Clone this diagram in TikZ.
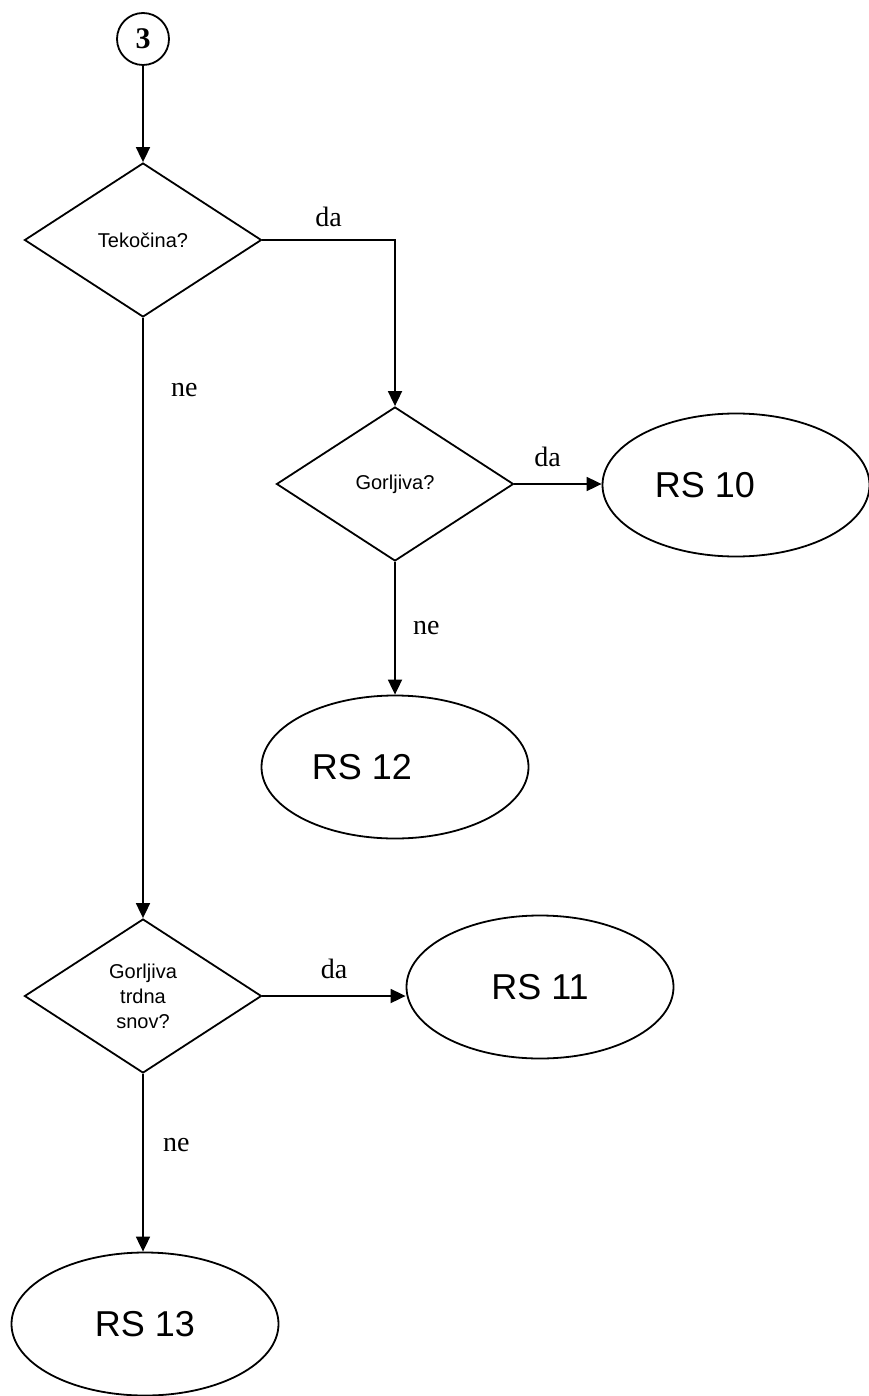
\documentclass[tikz,border=0pt]{standalone}
\usepackage{fontspec}
\setmainfont{Liberation Serif}
\newfontfamily\sansf{Liberation Sans}
\usetikzlibrary{arrows.meta,positioning,shapes.geometric}

\begin{document}
\begin{tikzpicture}[x=1pt,y=-1pt,line width=1.8pt,>={Triangle[length=15pt,width=14pt]},
  start node/.style={circle,draw,minimum size=52pt,inner sep=0pt,font=\fontsize{30}{30}\selectfont\bfseries},
  test node/.style={diamond,draw,minimum width=237pt,minimum height=154pt,inner sep=0pt,align=center,font=\sansf\fontsize{20}{25}\selectfont},
  end node/.style={ellipse,draw,minimum width=267pt,minimum height=143pt,inner sep=0pt,font=\sansf\fontsize{36}{36}\selectfont},
  answer/.style={font=\fontsize{28}{28}\selectfont}]
  \useasboundingbox (0,0) rectangle (868,1396);
  \node[start node] (S) at (143,39) {3};
  \node[test node] (T1) at (143,240) {Teko\v{c}ina?};
  \node[test node] (T2) at (395,484) {Gorljiva?};
  \node[test node] (T3) at (143,996) {Gorljiva\\trdna\\snov?};
  \node[end node] (R10) at (736,485) {RS 10\hspace*{62pt}};
  \node[end node] (R12) at (395,767) {RS 12\hspace*{66pt}};
  \node[end node] (R11) at (540,987) {RS 11};
  \node[end node] (R13) at (145,1324) {RS 13};

  \path [->] (S) edge (T1);
  \draw [->] (T1.east) -| node[answer,above=9pt,pos=0.25] {da} (T2.north);
  \path [->] (T1) edge node[answer,right=24pt,pos=0.12] {ne} (T3);
  \path [->] (T2.east) edge node[answer,above=13pt,pos=0.38] {da} (T2.east -| R10.west);
  \path [->] (T2) edge node[answer,right=14pt] {ne} (R12);
  \path [->] (T3.east) edge node[answer,above=13pt] {da} (T3.east -| R11.west);
  \path [->] (T3.south) edge node[answer,right=16pt,pos=0.4] {ne} (T3.south |- R13.north);
\end{tikzpicture}
\end{document}
